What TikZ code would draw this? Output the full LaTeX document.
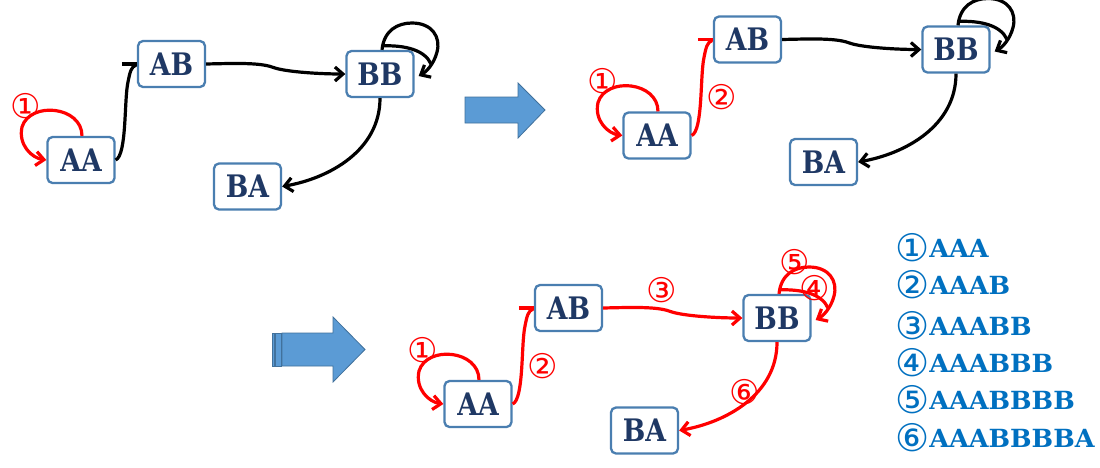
\documentclass[tikz,border=0pt]{standalone}
\usepackage{fontspec}
\setmainfont{DejaVu Serif}
\newfontfamily\boxfont{DejaVu Serif}[FakeStretch=0.86]
\newfontfamily\circfont{DejaVu Sans}
\newfontfamily\legfont{DejaVu Serif}[FakeStretch=1.02]
\usetikzlibrary{arrows.meta,calc}
\definecolor{boxline}{HTML}{4A7EB0}
\definecolor{boxtext}{HTML}{1F3864}
\definecolor{bigfill}{HTML}{5B9BD5}
\definecolor{bigline}{HTML}{41719C}
\definecolor{legendblue}{HTML}{0070C0}
\tikzset{
  state/.style={draw=boxline, line width=2.3pt, rounded corners=5pt, fill=white,
    minimum width=67pt, minimum height=46pt, inner sep=0pt, text=boxtext,
    font=\boxfont\bfseries\fontsize{31}{32}\selectfont},
  plain/.style={line width=3.2pt},
  link/.style={line width=3.2pt, -{Straight Barb[length=8pt,width=14pt]}},
  numlab/.style={text=red, font=\circfont\fontsize{34}{34}\selectfont, inner sep=0pt},
  legline/.style={anchor=west, inner sep=0pt, text=legendblue},
  bigarrow/.style={fill=bigfill, draw=bigline, line width=0.8pt}
}
\newcommand\legcirc[1]{\raisebox{-4pt}{\circfont\fontsize{38}{38}\selectfont #1}}
\newcommand\legtext{\legfont\bfseries\fontsize{25}{26}\selectfont}
\newcommand\statepanel[4]{%
\begin{scope}[shift={#2}]
  \node[state] (#1AA) at (81,160) {AA};
  \node[state] (#1AB) at (171.5,64) {AB};
  \node[state] (#1BB) at (380,74) {BB};
  \node[state] (#1BA) at (247.5,186.5) {BA};
  \draw[link,red] ([xshift=1pt]#1AA.north) .. controls (82,106) and (30,101) .. (22,127)
        .. controls (18,145) and (32,158) .. (#1AA.west);
  \draw[plain,#3] (#1AA.east) .. controls (127,155) and (124,100) .. (128,82)
        .. controls (130,72) and (131,67) .. (136,65);
  \draw[plain,#3] ([xshift=-15pt]#1AB.west) -- (#1AB.west);
  \draw[link,#4] (#1AB.east) .. controls (245,63) and (262,63) .. (275,68)
        .. controls (288,72) and (320,74) .. (#1BB.west);
  \draw[link,#4] ([xshift=2pt]#1BB.north) .. controls (384,30) and (398,23) .. (412,23)
        .. controls (432,23) and (441,37) .. (437,52)
        .. controls (434,64) and (426,72) .. ([shift={(4,2)}]#1BB.east);
  \draw[plain,#4] ([shift={(2,-4)}]#1BB.north) .. controls (405,45) and (425,50) .. (431,64);
  \draw[link,#4] (#1BB.south) .. controls (380,150) and (330,178) .. (#1BA.east);
\end{scope}}
\begin{document}
\begin{tikzpicture}[x=1pt,y=-1pt]
  \fill[white] (0,0) rectangle (1100,467);
  \useasboundingbox (0,0) rectangle (1100,467);
  % big arrows
  \draw[bigarrow] (465,97) -- (518,97) -- (518,83) -- (545,110) -- (518,138) -- (518,123) -- (465,123) -- cycle;
  \draw[bigarrow] (272,333) rectangle (274,366);
  \draw[bigarrow] (275.5,333) rectangle (281,366);
  \draw[bigarrow] (282,333) -- (333,333) -- (333,317) -- (365,349.5) -- (333,382) -- (333,366) -- (282,366) -- cycle;
  % panels
  \statepanel{p}{(0,0)}{black}{black}
  \statepanel{q}{(576,-24.5)}{red}{black}
  \statepanel{r}{(397,244)}{red}{red}
  % labels
  \node[numlab] (pl1) at (26,106) {①};
  \begin{scope}[shift={(576,-24.5)}]
    \node[numlab] (ql1) at (27,106) {①};
    \node[numlab] (ql2) at (146,122) {②};
  \end{scope}
  \begin{scope}[shift={(397,244)}]
    \node[numlab] (rl1) at (26,106) {①};
    \node[numlab] (rl2) at (146,122) {②};
    \node[numlab] (rl3) at (265,46) {③};
    \node[numlab] (rl4) at (418,44) {④};
    \node[numlab] (rl5) at (398,18) {⑤};
    \node[numlab] (rl6) at (348,148) {⑥};
  \end{scope}
  % legend
  \node[legline] (g1) at (895,248) {\legcirc{①}{\legtext AAA}};
  \node[legline] (g2) at (895,285) {\legcirc{②}{\legtext AAAB}};
  \node[legline] (g3) at (895,326) {\legcirc{③}{\legtext AAABB}};
  \node[legline] (g4) at (895,363) {\legcirc{④}{\legtext AAABBB}};
  \node[legline] (g5) at (895,400) {\legcirc{⑤}{\legtext AAABBBB}};
  \node[legline] (g6) at (895,438) {\legcirc{⑥}{\legtext AAABBBBA}};
\end{tikzpicture}
\end{document}
